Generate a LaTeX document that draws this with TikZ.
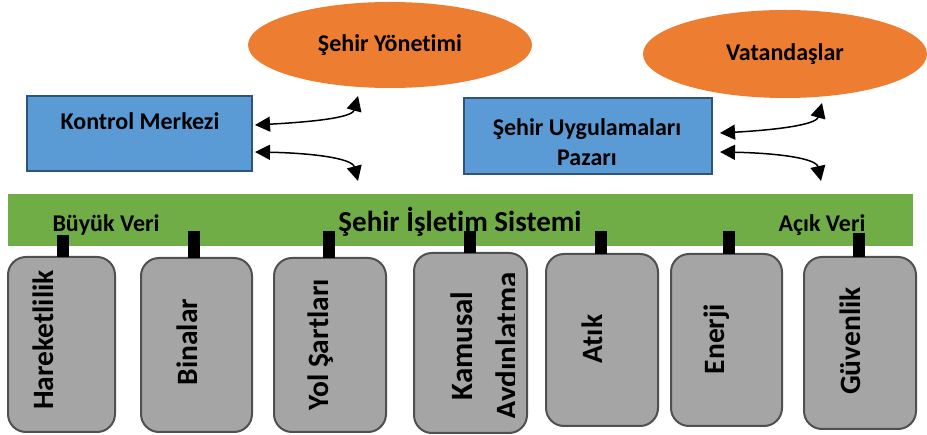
\documentclass[tikz,border=0pt]{standalone}
\usepackage{fontspec}
\setmainfont{Carlito}[Ligatures={NoCommon,NoDiscretionary,NoContextual},RawFeature={-liga,-clig,-dlig,-calt}]
\usetikzlibrary{arrows.meta,shapes.geometric,calc}
\definecolor{orangeF}{HTML}{ED7D31}
\definecolor{blueF}{HTML}{5B9BD5}
\definecolor{blueD}{HTML}{2F5478}
\definecolor{greenF}{HTML}{70AD47}
\definecolor{grayF}{HTML}{A5A5A5}
\definecolor{grayD}{HTML}{505050}
\newcommand\fsmall{\fontsize{24}{30}\selectfont\bfseries}
\newcommand\fbig{\fontsize{29.5}{36}\selectfont\bfseries}
\begin{document}
\begin{tikzpicture}[x=1pt,y=-1pt,
  bluebox/.style={draw=blueD,line width=2pt,fill=blueF,inner sep=0pt,outer sep=0pt,anchor=north west},
  graybox/.style={draw=grayD,line width=2pt,fill=grayF,rounded corners=18pt,inner sep=0pt,outer sep=0pt,anchor=north west},
  oval/.style={ellipse,fill=orangeF,inner sep=0pt,font=\fsmall},
  lbl/.style={inner sep=0pt,font=\fsmall},
  vlbl/.style={inner sep=0pt,font=\fbig,rotate=90},
  conn/.style={line width=12pt},
  dbl/.style={line width=1.5pt,{Triangle[length=15pt,width=15pt]}-{Triangle[length=15pt,width=15pt]}}]
\useasboundingbox (0,0) rectangle (927,435);

% top ellipses
\node[oval,minimum width=284pt,minimum height=86pt] (sy) at (390,45) {Şehir Yönet\kern0pt imi};
\node[oval,minimum width=284pt,minimum height=88pt] (vt) at (785,54) {Vatandaşlar};

% blue boxes
\node[bluebox,minimum width=225pt,minimum height=75pt] (km) at (27,96) {};
\node[lbl] (kmt) at (140,121) {Kontrol Merkezi};
\node[bluebox,minimum width=248pt,minimum height=76pt] (su) at (464,98) {};
\node[lbl,align=center,font=\fontsize{24}{30}\selectfont\bfseries] (sut) at (587,142) {Şehir Uygulamaları\\Pazarı};

% arrows
\coordinate (a1) at (255,125);
\coordinate (b1) at (358,96);
\coordinate (a2) at (255,152);
\coordinate (b2) at (358,181);
\coordinate (a3) at (720,133);
\coordinate (b3) at (822,103);
\coordinate (a4) at (720,152);
\coordinate (b4) at (821,181);
\draw[dbl] (a1) .. controls (310,122) and (352,118) .. (b1);
\draw[dbl] (a2) .. controls (310,153) and (352,158) .. (b2);
\draw[dbl] (a3) .. controls (775,130) and (816,125) .. (b3);
\draw[dbl] (a4) .. controls (775,153) and (816,158) .. (b4);

% green bar
\node[fill=greenF,inner sep=0pt,outer sep=0pt,anchor=north west,minimum width=905pt,minimum height=52pt] (os) at (8,194) {};
\node[lbl,font=\fontsize{29}{34}\selectfont\bfseries] (ost) at (460,222) {Şehir İşlet\kern0pt im Sistemi};
\node[lbl] (bv) at (106,225) {Büyük Veri};
\node[lbl] (av) at (822,225) {Açık Veri};

% connector tops
\coordinate (c1) at (63,235);
\coordinate (c2) at (194,231);
\coordinate (c3) at (329,231);
\coordinate (c4) at (470,231);
\coordinate (c5) at (601,231);
\coordinate (c6) at (729,231);
\coordinate (c7) at (859,233);

% gray boxes
\node[graybox,minimum width=107pt,minimum height=175pt] (h1) at (8,257) {};
\node[graybox,minimum width=111pt,minimum height=174pt] (h2) at (141,258) {};
\node[graybox,minimum width=112pt,minimum height=174pt] (h3) at (274,258) {};
\node[graybox,minimum width=113pt,minimum height=180pt] (h4) at (414,253) {};
\node[graybox,minimum width=112pt,minimum height=172pt] (h5) at (546,254) {};
\node[graybox,minimum width=111pt,minimum height=172pt] (h6) at (671,254) {};
\node[graybox,minimum width=112pt,minimum height=172pt] (h7) at (804,257) {};

\draw[conn] (c1) -- (c1 |- h1.north);
\draw[conn] (c2) -- (c2 |- h2.north);
\draw[conn] (c3) -- (c3 |- h3.north);
\draw[conn] (c4) -- (c4 |- h4.north);
\draw[conn] (c5) -- (c5 |- h5.north);
\draw[conn] (c6) -- (c6 |- h6.north);
\draw[conn] (c7) -- (c7 |- h7.north);

% vertical labels
\node[vlbl] (t1) at (43,340) {Hareketlilik};
\node[vlbl] (t2) at (187,342) {Binalar};
\node[vlbl] (t3) at (321,345) {Yol Şartları};
\begin{scope}
\clip (414,253) rectangle (514,433);
\node[vlbl,align=center,font=\fontsize{31}{45}\selectfont\bfseries] (t4) at (487,346) {Kamusal\\Aydınlatma};
\end{scope}
\node[vlbl] (t5) at (592,339) {Atık};
\node[vlbl] (t6) at (717,339) {Enerji};
\node[vlbl] (t7) at (850,341) {Güvenlik};
\end{tikzpicture}
\end{document}
